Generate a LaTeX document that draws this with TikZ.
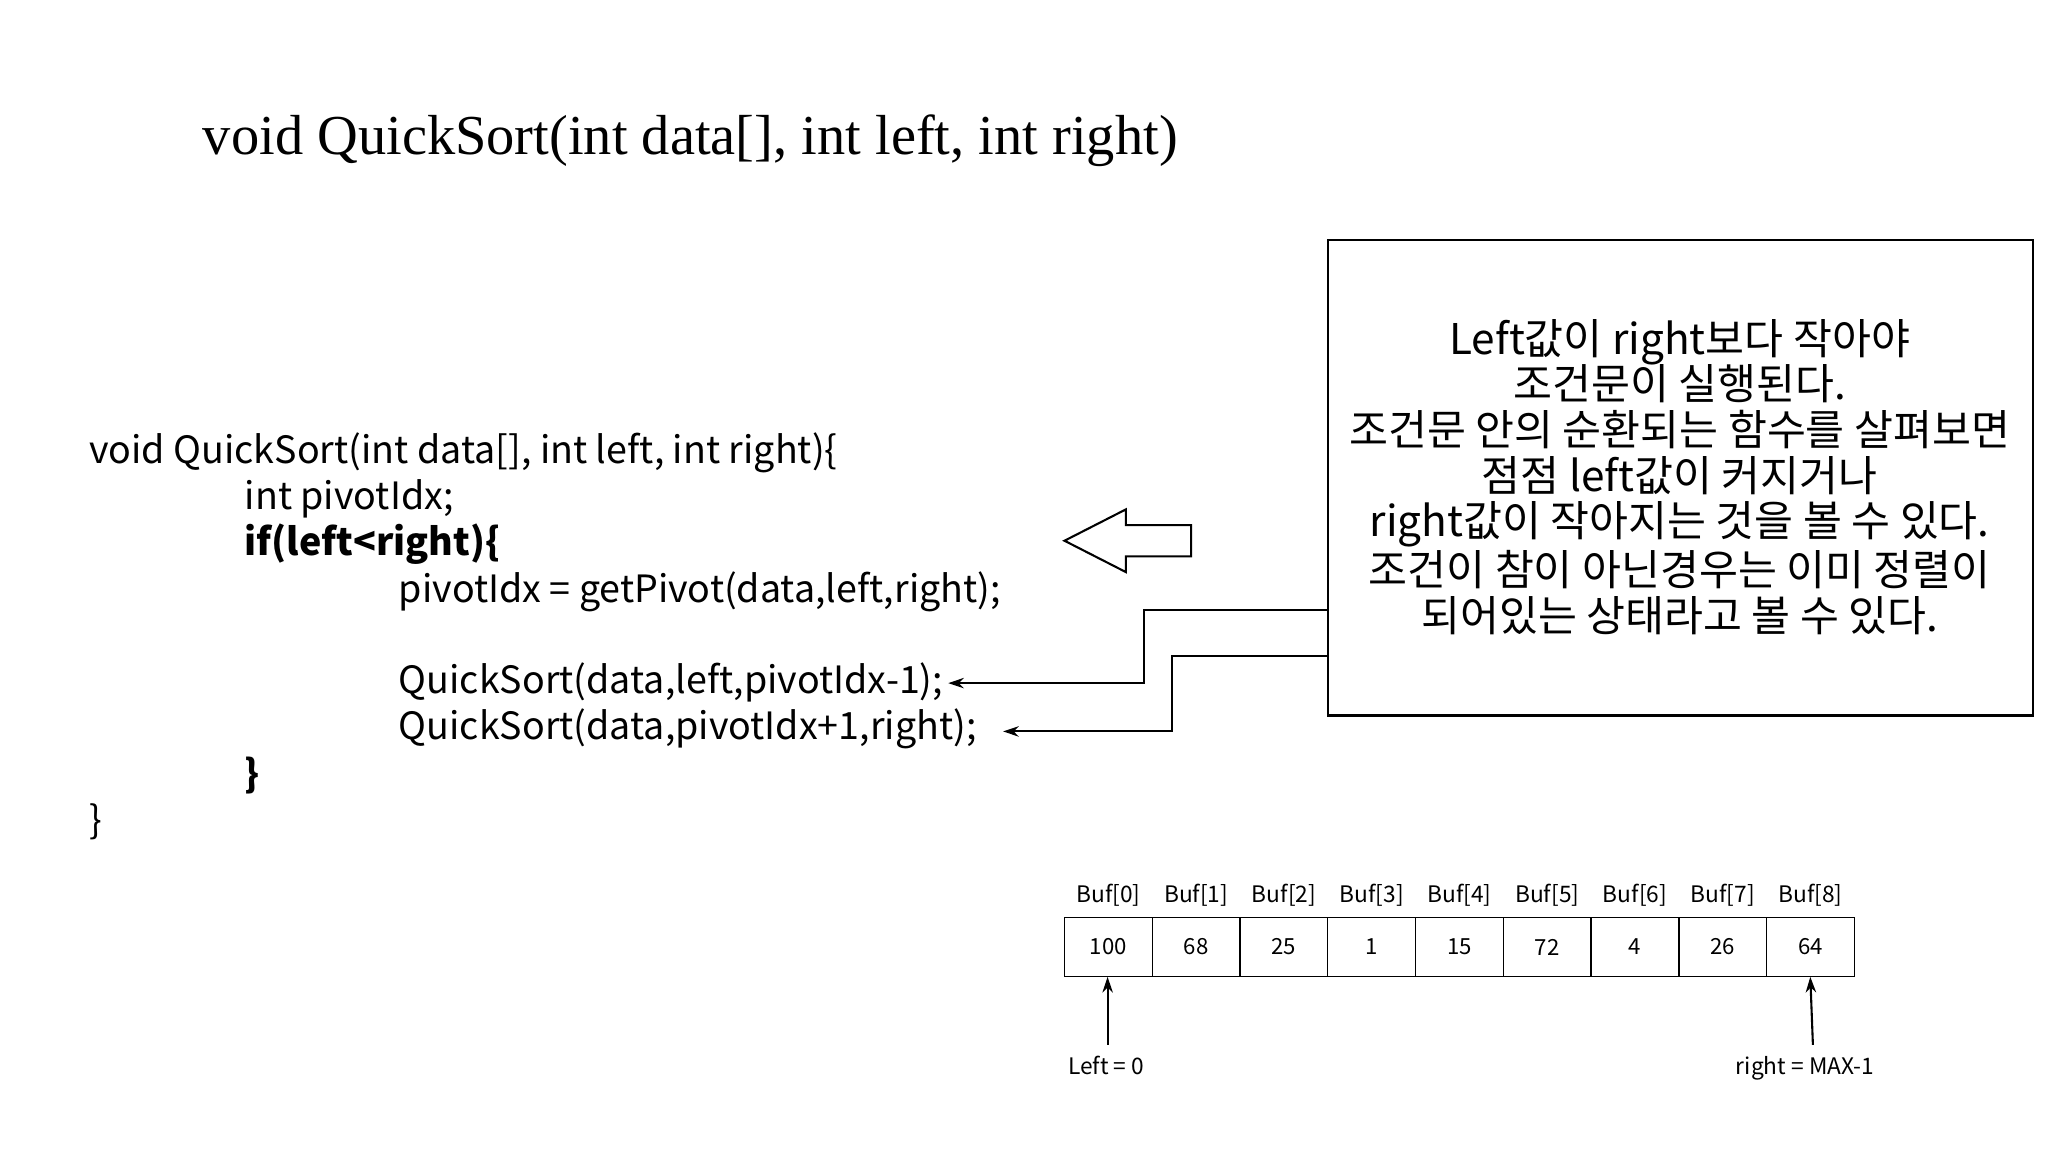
\documentclass[tikz,border=0pt]{standalone}
\usepackage{fontspec}
\setmainfont{Noto Sans CJK KR}
\newfontfamily\titlefont{Liberation Serif}
\usetikzlibrary{arrows.meta}
\begin{document}
\begin{tikzpicture}[x=0.5pt,y=-0.5pt,
  code/.style={anchor=base west,inner sep=0,font=\fontsize{14.4}{16}\selectfont},
  cell/.style={draw,minimum width=33.5pt,minimum height=22.5pt,inner sep=0,font=\fontsize{8.5}{10}\selectfont},
  lab/.style={inner sep=0,font=\fontsize{8.7}{10}\selectfont},
  conn/.style={-{Stealth[length=6pt,width=4pt]},line width=0.8pt}]
\useasboundingbox (0,0) rectangle (1568,882);
\node[anchor=base west,inner sep=0,font=\titlefont\fontsize{21.6}{24}\selectfont] (title) at (155,118) {void QuickSort(int data[], int left, int right)};
\node[code] (c1) at (68,355) {void QuickSort(int data[], int left, int right)\{};
\node[code] (c2) at (187,390) {int pivotIdx;};
\node[code] (c3) at (187,425) {\bfseries if(left<right)\{};
\node[code] (c4) at (305,461) {pivotIdx = getPivot(data,left,right);};
\node[code] (c5) at (305,531) {QuickSort(data,left,pivotIdx-1);};
\node[code] (c6) at (305,566) {QuickSort(data,pivotIdx+1,right);};
\node[code] (c7) at (187,603) {\bfseries \}};
\node[code] (c8) at (68,638) {\}};
\node[draw,line width=0.8pt,minimum width=270pt,minimum height=182pt,anchor=north west,inner sep=0] (box) at (1016,183) {};
\node[align=center,font=\fontsize{16.2}{17.5}\selectfont,inner sep=0] (boxtext) at (1286,365) {Left값이 right보다 작아야\\조건문이 실행된다.\\조건문 안의 순환되는 함수를 살펴보면\\점점 left값이 커지거나\\right값이 작아지는 것을 볼 수 있다.\\조건이 참이 아닌경우는 이미 정렬이\\되어있는 상태라고 볼 수 있다.};
\draw[line width=0.8pt] (815,414) -- (862,390) -- (862,402) -- (912,402) -- (912,426) -- (862,426) -- (862,438) -- cycle;
\coordinate (e1) at (726,523);
\coordinate (e2) at (768,560);
\draw[conn] (box.west |- 0,467) -- (876,467) -- (876,523) -- (e1);
\draw[conn] (box.west |- 0,502) -- (897,502) -- (897,560) -- (e2);
\foreach \v/\l [count=\i from 0] in {100/Buf[0],68/Buf[1],25/Buf[2],1/Buf[3],15/Buf[4],72/Buf[5],4/Buf[6],26/Buf[7],64/Buf[8]} {
  \node[cell] (b\i) at ({815+67.2*\i+33.6},725) {\v};
  \node[lab,anchor=base] (l\i) at ({815+67.2*\i+33.6},691) {\l};
}
\node[lab,anchor=base] (left) at (847,823) {Left = 0};
\node[lab,anchor=base] (right) at (1382,823) {right = MAX-1};
\draw[conn] (848,800) -- (b0.south -| 848,0);
\draw[conn] (1388,800) -- (b8.south -| 1386,0);
\end{tikzpicture}
\end{document}
